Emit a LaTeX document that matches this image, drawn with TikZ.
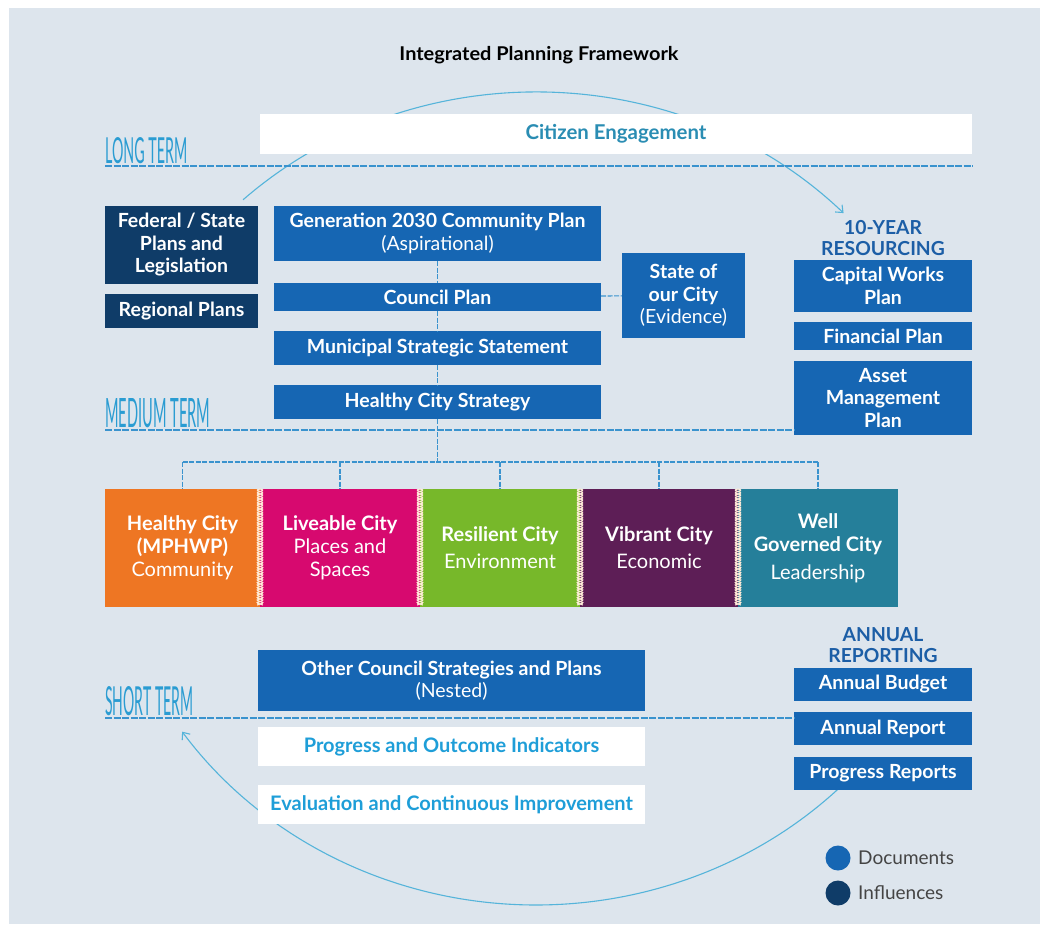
\documentclass[tikz,border=0pt]{standalone}
\usepackage{fontspec}
\setmainfont{Lato}
\usetikzlibrary{calc,arrows.meta}
\definecolor{bg}{HTML}{DDE5ED}
\definecolor{docblue}{HTML}{1666B3}
\definecolor{navy}{HTML}{0F3C68}
\definecolor{cyanline}{HTML}{55B4DA}
\definecolor{dashblue}{HTML}{3A93CE}
\definecolor{termblue}{HTML}{2A9CD2}
\definecolor{ceteal}{HTML}{2A8DB3}
\definecolor{pcyan}{HTML}{1E9ED8}
\definecolor{headblue}{HTML}{1C5EA6}
\definecolor{cOrange}{HTML}{EE7623}
\definecolor{cMagenta}{HTML}{D7096F}
\definecolor{cGreen}{HTML}{77B82A}
\definecolor{cPurple}{HTML}{5D1E56}
\definecolor{cTeal}{HTML}{257F9A}
\definecolor{legtext}{HTML}{444444}
\tikzset{
  box/.style={inner sep=0pt, align=center, text=white, font=\fontsize{19.5}{22.5}\selectfont\bfseries},
  doc/.style={box, fill=docblue},
  infl/.style={box, fill=navy},
  wbox/.style={inner sep=0pt, align=center, fill=white, font=\fontsize{20}{22}\selectfont\bfseries},
  city/.style={inner sep=0pt, align=center, text=white, font=\fontsize{20}{23}\selectfont},
  head/.style={inner sep=0pt, align=center, text=headblue, font=\fontsize{19.3}{21.5}\selectfont\bfseries},
  termlab/.style={inner sep=0pt, anchor=south west, text=termblue},
  link/.style={draw=dashblue, dash pattern=on 5pt off 1.5pt, line width=1.1pt},
  termline/.style={draw=dashblue, dash pattern=on 7pt off 1.5pt, line width=1.2pt},
  cycleline/.style={draw=cyanline, line width=1.1pt},
  helix/.style={draw=white!85!orange, line width=1.1pt}
}
\begin{document}
\begin{tikzpicture}[x=1pt,y=-1pt]
\useasboundingbox (0,0) rectangle (1040,924);
\fill[white] (0,0) rectangle (1040,924);
\fill[bg] (9,8) rectangle (1040,924);

% title
\node[font=\fontsize{19}{22}\selectfont\bfseries, inner sep=0pt] (title) at (539,55) {\scalebox{1.05}[1]{Integrated Planning Framework}};

% cycle arcs (behind boxes)
\coordinate (O) at (536,498.5);
\draw[cycleline, -{Straight Barb[length=6pt,width=10pt]}] ($(O)+(132.7:432pt and 406.5pt)$) coordinate (arcA)
  arc[start angle=132.7, end angle=44.6, x radius=432pt, y radius=406.5pt] coordinate (arcB);
\draw[cycleline, -{Straight Barb[length=6pt,width=10pt]}] ($(O)+(-45.5:432pt and 406.5pt)$) coordinate (arcC)
  arc[start angle=-45.5, end angle=-145, x radius=432pt, y radius=406.5pt] coordinate (arcD);

% term labels
\node[termlab] (lt) at (105,164) {\resizebox{82pt}{26pt}{LONG TERM}};
\node[termlab] (mt) at (105,428) {\resizebox{105pt}{29pt}{MEDIUM TERM}};
\node[termlab] (st) at (105,716) {\resizebox{88pt}{29pt}{SHORT TERM}};

% citizen engagement
\node[wbox, text=ceteal, minimum width=712, minimum height=40, font=\fontsize{20.4}{22}\selectfont\bfseries] (ce) at (616,134) {\raisebox{-3pt}{Citizen Engagement}};

% long term line
\draw[termline] ([yshift=-2pt]lt.south west) -- ([yshift=-2pt]lt.south west -| ce.east);

% influences
\node[infl, minimum width=153, minimum height=78] (fed) at (181.5,245) {Federal / State\\Plans and\\Legislation};
\node[infl, minimum width=153, minimum height=34] (reg) at (181.5,311) {Regional Plans};

% central column
\node[doc, minimum width=327, minimum height=55] (gen) at (437.5,233.5) {Generation 2030 Community Plan\\{\mdseries (Aspirational)}};
\node[doc, minimum width=327, minimum height=28] (cp) at (437.5,297) {Council Plan};
\node[doc, minimum width=327, minimum height=34] (mss) at (437.5,348) {Municipal Strategic Statement};
\node[doc, minimum width=327, minimum height=34] (hcs) at (437.5,402) {Healthy City Strategy};

% state of our city
\node[doc, minimum width=123, minimum height=85] (soc) at (683.5,295.5) {State of\\our City\\{\mdseries (Evidence)}};

% resourcing
\node[head] (res) at (883,238) {10-YEAR\\RESOURCING};
\node[doc, minimum width=178, minimum height=52] (cwp) at (883,286) {Capital Works\\Plan};
\node[doc, minimum width=178, minimum height=28] (fin) at (883,336) {Financial Plan};
\node[doc, minimum width=178, minimum height=74] (amp) at (883,398) {Asset\\Management\\Plan};

% medium term line
\draw[termline] ([yshift=-2pt]mt.south west) -- ([yshift=-2pt]mt.south west -| amp.west);

% city strip
\node[city, fill=cOrange, minimum width=155, minimum height=118] (hc) at (182.5,548) {\textbf{Healthy City}\\\textbf{(MPHWP)}\\Community};
\node[city, fill=cMagenta, minimum width=160, minimum height=118] (lc) at (340,548) {\textbf{Liveable City}\\Places and\\Spaces};
\node[city, fill=cGreen, minimum width=160, minimum height=118] (rc) at (500,548) {\textbf{Resilient City}\\[4pt]Environment};
\node[city, fill=cPurple, minimum width=158, minimum height=118] (vc) at (659,548) {\textbf{Vibrant City}\\[4pt]Economic};
\node[city, fill=cTeal, minimum width=160, minimum height=118] (wg) at (818,548) {\textbf{Well}\\\textbf{Governed City}\\[5pt]Leadership};

\foreach \xb in {260,420,580,738} {
  \draw[helix] plot[domain=0:116, samples=140, smooth] ({\xb+3*sin(\x*72)},{489+\x});
  \draw[helix] plot[domain=0:116, samples=140, smooth] ({\xb-3*sin(\x*72)},{489+\x});
}

% tree connectors
\coordinate (bus) at (437.5,462);
\draw[link] (gen) -- (cp);
\draw[link] (cp) -- (mss);
\draw[link] (mss) -- (hcs);
\draw[link] (cp) -- (soc);
\draw[link] (hcs.south) -- (bus);
\draw[link] (hc.north |- bus) -- (wg.north |- bus);
\foreach \n in {hc,lc,rc,vc,wg} { \draw[link] (\n.north |- bus) -- (\n.north); }

% short term block
\node[doc, minimum width=387, minimum height=61] (ocs) at (451.5,680.5) {Other Council Strategies and Plans\\{\mdseries (Nested)}};
\node[wbox, text=pcyan, minimum width=387, minimum height=39] (poi) at (451.5,746.5) {Progress and Outcome Indicators};
\node[wbox, text=pcyan, minimum width=387, minimum height=39] (eci) at (451.5,804.5) {Evaluation and Continuous Improvement};

% annual reporting
\node[head] (rep) at (883,645) {ANNUAL\\REPORTING};
\node[doc, minimum width=178, minimum height=33] (ab) at (883,684.5) {Annual Budget};
\node[doc, minimum width=178, minimum height=33] (ar) at (883,728.5) {Annual Report};
\node[doc, minimum width=178, minimum height=33] (pr) at (883,773.5) {Progress Reports};

% short term line
\draw[termline] ([yshift=-2pt]st.south west) -- ([yshift=-2pt]st.south west -| ar.west);

% legend
\node[circle, fill=docblue, minimum size=25, inner sep=0pt] (ldoc) at (838,858) {};
\node[circle, fill=navy, minimum size=25, inner sep=0pt] (linf) at (838,893) {};
\node[anchor=west, inner sep=0pt, text=legtext, font=\fontsize{19}{20}\selectfont] (tdoc) at (858,858) {Documents};
\node[anchor=west, inner sep=0pt, text=legtext, font=\fontsize{19}{20}\selectfont] (tinf) at (858,893) {Influences};
\end{tikzpicture}
\end{document}
